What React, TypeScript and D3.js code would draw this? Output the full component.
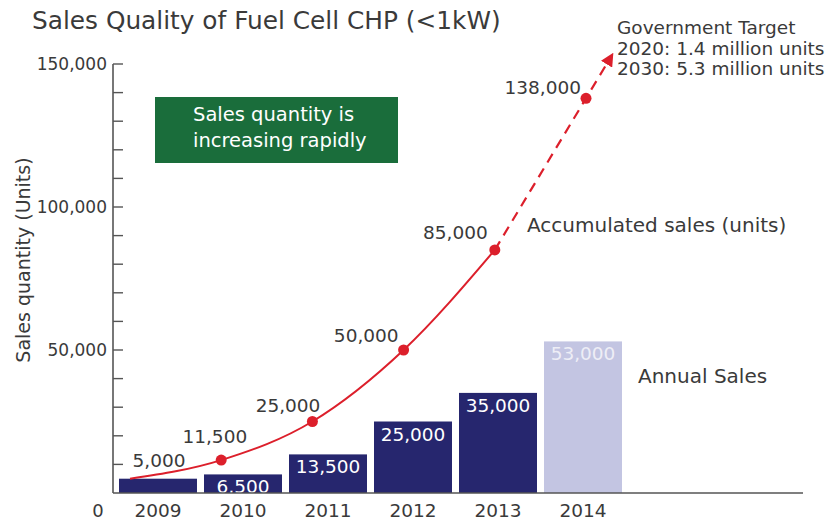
import React from "react";
import * as d3 from "d3";

const years = [2009, 2010, 2011, 2012, 2013, 2014];
const annualSales = [5000, 6500, 13500, 25000, 35000, 53000];
const accumulated = [5000, 11500, 25000, 50000, 85000, 138000];
const forecastYear = 2014;
const majorTicks = [50000, 100000, 150000];
const minorTicks = d3.range(10000, 150001, 10000);
const targetLines = [
    "Government Target",
    "2020: 1.4 million units",
    "2030: 5.3 million units",
];
const noteLines = ["Sales quantity is", "increasing rapidly"];

const width = 834;
const height = 520;
const font = "'DejaVu Sans', sans-serif";
const ink = "#3a3a3a";
const red = "#dc1f2b";
const navy = "#26266e";
const lilac = "#c3c5e2";

// label offsets (dx, dy, anchor) for the accumulated points, placed by eye
const accLabelPos: [number, number, string][] = [
    [29, -12, "middle"],
    [26, -17, "end"],
    [8, -10, "end"],
    [-5, -8, "end"],
    [-7, -11, "end"],
    [-5, -4, "end"],
];

const App: React.FC = () => {
    const y = d3.scaleLinear().domain([0, 150000]).range([493, 64]);
    const xBar = d3
        .scaleBand<number>()
        .domain(years)
        .range([119, 622])
        .paddingInner(0.0825)
        .paddingOuter(0);
    const xLine = d3.scaleLinear().domain([2009, 2014]).range([130, 586]);

    const pts: [number, number][] = years.map((yr, i) => [yr, accumulated[i]]);
    const solidPts = pts.filter((p) => p[0] < forecastYear);
    const lastSolid = solidPts[solidPts.length - 1];
    const lastPt = pts[pts.length - 1];
    // arrow carries the dashed trend a little past the last point
    const ext = 0.27;
    const tip: [number, number] = [
        lastPt[0] + ext * (lastPt[0] - lastSolid[0]),
        lastPt[1] + ext * (lastPt[1] - lastSolid[1]),
    ];

    const solidLine = d3
        .line<[number, number]>()
        .x((d) => xLine(d[0]))
        .y((d) => y(d[1]))
        .curve(d3.curveMonotoneX);
    const straight = d3
        .line<[number, number]>()
        .x((d) => xLine(d[0]))
        .y((d) => y(d[1]));

    const fmt = d3.format(",");

    return (
        <svg
            width={width}
            height={height}
            style={{ position: "absolute", left: 0, top: 0, background: "#fff" }}
            fontFamily={font}
        >
            <defs>
                <marker
                    id="arrow"
                    viewBox="0 0 10 10"
                    refX="6"
                    refY="5"
                    markerWidth="6"
                    markerHeight="6"
                    markerUnits="strokeWidth"
                    orient="auto"
                >
                    <path d="M0,0 L10,5 L0,10 z" fill={red} />
                </marker>
            </defs>

            <text x={32} y={29} fontSize={24.8} fill={ink}>
                Sales Quality of Fuel Cell CHP (&lt;1kW)
            </text>

            {/* y axis */}
            <text
                transform={`translate(30,${260}) rotate(-90)`}
                textAnchor="middle"
                fontSize={19}
                fill={ink}
            >
                Sales quantity (Units)
            </text>
            <line x1={113} x2={113} y1={y(150000)} y2={y(0)} stroke="#555" strokeWidth={1.6} />
            {minorTicks.map((t) => (
                <line key={t} x1={113} x2={123} y1={y(t)} y2={y(t)} stroke="#555" strokeWidth={1.4} />
            ))}
            {majorTicks.map((t) => (
                <text
                    key={t}
                    x={107}
                    y={y(t)}
                    dy="0.36em"
                    textAnchor="end"
                    fontSize={17}
                    fill={ink}
                >
                    {fmt(t)}
                </text>
            ))}
            <text x={98} y={517} textAnchor="middle" fontSize={18} fill={ink}>
                0
            </text>

            {/* bars */}
            {years.map((yr, i) => (
                <rect
                    key={yr}
                    x={xBar(yr)}
                    y={y(annualSales[i])}
                    width={xBar.bandwidth()}
                    height={y(0) - y(annualSales[i])}
                    fill={yr === forecastYear ? lilac : navy}
                />
            ))}
            {years.slice(1).map((yr) => {
                const v = annualSales[years.indexOf(yr)];
                return (
                    <text
                        key={yr}
                        x={(xBar(yr) as number) + xBar.bandwidth() / 2}
                        y={y(v) + 19}
                        textAnchor="middle"
                        fontSize={18.5}
                        fill={yr === forecastYear ? "#eeeef6" : "#fff"}
                    >
                        {fmt(v)}
                    </text>
                );
            })}
            <line x1={113} x2={803} y1={y(0)} y2={y(0)} stroke="#555" strokeWidth={1.6} />
            {years.map((yr) => (
                <text
                    key={yr}
                    x={(xBar(yr) as number) + xBar.bandwidth() / 2}
                    y={517}
                    textAnchor="middle"
                    fontSize={18.5}
                    fill={ink}
                >
                    {yr}
                </text>
            ))}

            {/* accumulated line */}
            <path d={solidLine(solidPts) || ""} fill="none" stroke={red} strokeWidth={2} />
            <path
                d={straight([lastSolid, tip]) || ""}
                fill="none"
                stroke={red}
                strokeWidth={2.2}
                strokeDasharray="10,7"
                markerEnd="url(#arrow)"
            />
            {pts.slice(1).map((p) => (
                <circle key={p[0]} cx={xLine(p[0])} cy={y(p[1])} r={5.5} fill={red} />
            ))}
            {pts.map((p, i) => (
                <text
                    key={p[0]}
                    x={xLine(p[0]) + accLabelPos[i][0]}
                    y={y(p[1]) + accLabelPos[i][1]}
                    textAnchor={accLabelPos[i][2]}
                    fontSize={18.5}
                    fill={ink}
                >
                    {fmt(p[1])}
                </text>
            ))}

            {/* annotations */}
            <rect x={155} y={97} width={243} height={66} fill="#1a6d3b" />
            {noteLines.map((t, i) => (
                <text key={t} x={193} y={121 + i * 26} fontSize={19.5} fill="#fff">
                    {t}
                </text>
            ))}
            {targetLines.map((t, i) => (
                <text key={t} x={617} y={34 + i * 20.5} fontSize={18.5} fill={ink}>
                    {t}
                </text>
            ))}
            <text x={527} y={232} fontSize={20} fill={ink}>
                Accumulated sales (units)
            </text>
            <text x={638} y={383} fontSize={20} fill={ink}>
                Annual Sales
            </text>
        </svg>
    );
};

export default App;
